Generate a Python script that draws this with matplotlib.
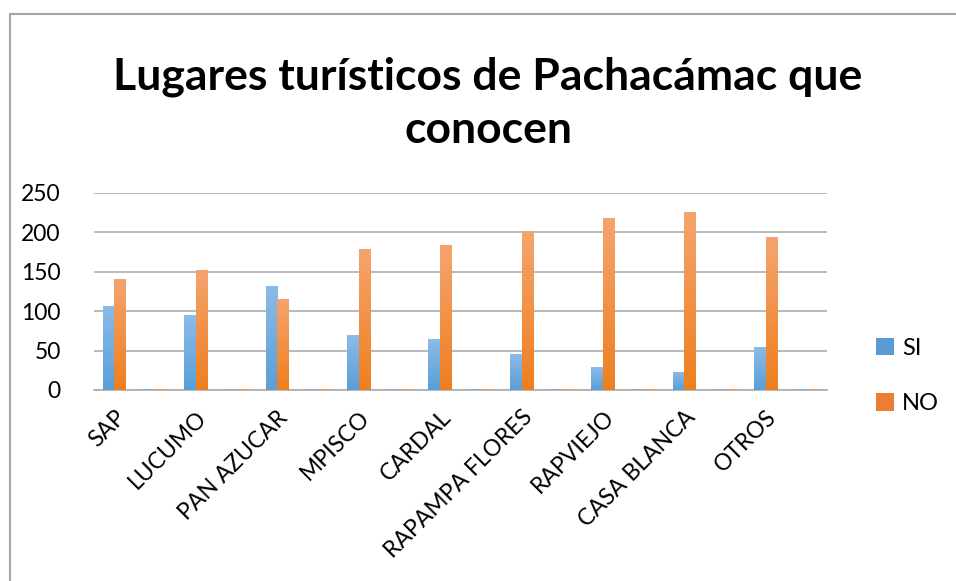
import matplotlib
matplotlib.use("Agg")
import matplotlib.pyplot as plt
import numpy as np
from matplotlib.lines import Line2D
from matplotlib.colors import LinearSegmentedColormap

categories = ["SAP", "", "LUCUMO", "", "PAN AZUCAR", "", "MPISCO", "", "CARDAL", "",
              "RAPAMPA FLORES", "", "RAPVIEJO", "", "CASA BLANCA", "", "OTROS", ""]
si_values = [107, 1, 95, 1, 132, 1, 70, 1, 65, 1, 46, 1, 29, 1, 23, 1, 55, 1]
no_values = [141, 1, 152, 1, 116, 1, 179, 1, 184, 1, 202, 1, 218, 1, 226, 1, 194, 1]
series_names = ["SI", "NO"]
yticks = [0, 50, 100, 150, 200, 250]
title = "Lugares turísticos de Pachacámac que\nconocen"

plt.rcParams['font.family'] = ['Lato', 'DejaVu Sans']

fig = plt.figure(figsize=(9.56, 5.81), dpi=100)
ax = fig.add_axes([94/956, 1-390/581, (827-94)/956, (390-193)/581])

x = np.arange(len(categories))
w = 0.286
b1 = ax.bar(x - w/2, si_values, w, color="#5B9BD5", label=series_names[0], zorder=2)
b2 = ax.bar(x + w/2, no_values, w, color="#ED7D31", label=series_names[1], zorder=2)

cm_blue = LinearSegmentedColormap.from_list("b", ["#5A9FD6", "#8DBBE8"])
cm_orange = LinearSegmentedColormap.from_list("o", ["#EE7F1F", "#F5A46F"])
grad = np.linspace(0, 1, 256).reshape(-1, 1)
for bars, cm in ((b1, cm_blue), (b2, cm_orange)):
    for p in bars:
        x0, y0 = p.get_x(), p.get_y()
        ww, hh = p.get_width(), p.get_height()
        im = ax.imshow(grad, cmap=cm, aspect='auto', origin='lower',
                       extent=(x0, x0 + ww, y0, y0 + hh), zorder=3)
        im.set_clip_path(p)

ax.set_xlim(-0.5, len(categories) - 0.5)
ax.set_ylim(0, 250)
ax.set_yticks(yticks)
ax.set_yticklabels([str(v) for v in yticks], fontsize=16.5)
ax.yaxis.grid(True, color="#ADADAD", linewidth=1.2, zorder=0)
ax.set_axisbelow(True)
for s in ("left", "right", "top"):
    ax.spines[s].set_visible(False)
ax.spines["bottom"].set_color("#ADADAD")
ax.spines["bottom"].set_linewidth(1.2)
ax.tick_params(axis="y", length=0, pad=24)
ax.tick_params(axis="x", length=0, pad=12)
ax.set_xticks(x)
ax.set_xticklabels(categories, rotation=45, ha="right", rotation_mode="anchor",
                   fontsize=16.5)

fig.text(488/956, 1-103/581, title, ha="center", va="center", fontsize=32,
         fontweight="bold", linespacing=1.38)

leg = fig.legend(handles=[b1, b2], labels=series_names, loc="center left",
                 bbox_to_anchor=(855/956, 1-376/581), frameon=False, fontsize=17,
                 handlelength=0.75, handleheight=0.75, labelspacing=1.45,
                 handletextpad=0.35)

fig.add_artist(Line2D([10/956, 10/956], [0, 1-14/581], transform=fig.transFigure,
                      color="#A6A6A6", linewidth=1.5))
fig.add_artist(Line2D([10/956, 1], [1-14/581, 1-14/581], transform=fig.transFigure,
                      color="#A6A6A6", linewidth=1.5))

fig.savefig("out.png", dpi=100)
